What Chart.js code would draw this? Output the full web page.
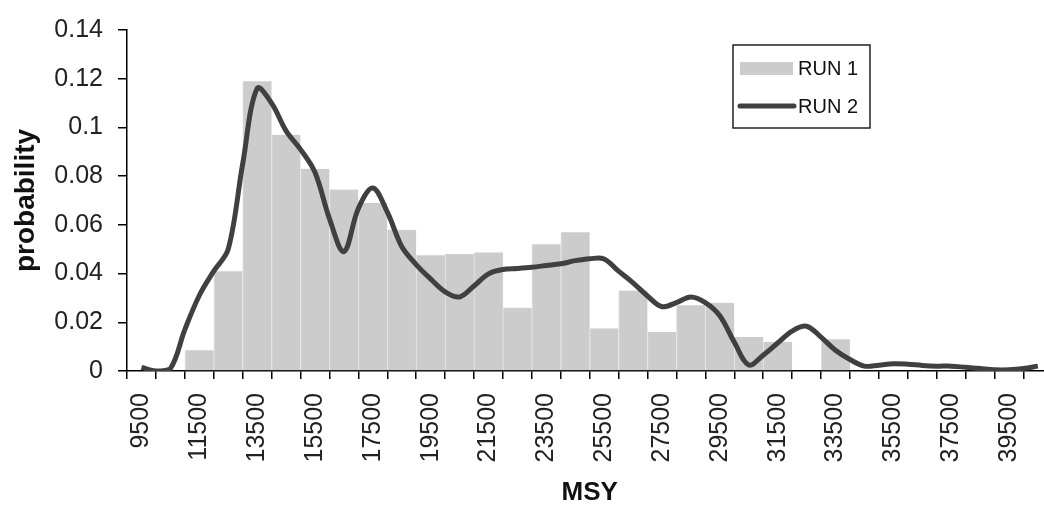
<!DOCTYPE html>
<html>
<head>
<meta charset="utf-8">
<script src="https://cdn.jsdelivr.net/npm/chart.js@4.4.1/dist/chart.umd.min.js"></script>
<style>
  html, body { margin: 0; padding: 0; background: #fff; overflow: hidden; }
  #wrap { position: absolute; left: 0; top: 0; width: 1082px; height: 509px; }
</style>
</head>
<body>
<div id="wrap"><canvas id="msy-chart"></canvas></div>
<script>
// histogram bins (MSY class centres)
const msyBins = ["9500", "10500", "11500", "12500", "13500", "14500", "15500", "16500",
  "17500", "18500", "19500", "20500", "21500", "22500", "23500", "24500",
  "25500", "26500", "27500", "28500", "29500", "30500", "31500", "32500",
  "33500", "34500", "35500", "36500", "37500", "38500", "39500", "40500"];

const run1 = [0, 0, 0.0085, 0.041, 0.119, 0.097, 0.083, 0.0745,
  0.069, 0.058, 0.0475, 0.048, 0.0487, 0.026, 0.052, 0.057,
  0.0175, 0.033, 0.016, 0.027, 0.028, 0.014, 0.012, 0,
  0.013, 0, 0, 0, 0, 0, 0, 0];

// RUN 2 density curve, read every 500
const run2Msy = [9500, 10000, 10500, 11000, 11500, 12000, 12500, 13000, 13500, 14000,
  14500, 15000, 15500, 16000, 16500, 17000, 17500, 18000, 18500, 19000,
  19500, 20000, 20500, 21000, 21500, 22000, 22500, 23000, 23500, 24000,
  24500, 25000, 25500, 26000, 26500, 27000, 27500, 28000, 28500, 29000,
  29500, 30000, 30500, 31000, 31500, 32000, 32500, 33000, 33500, 34000,
  34500, 35000, 35500, 36000, 36500, 37000, 37500, 38000, 38500, 39000,
  39500, 40000, 40500];

const run2 = [0.0015, 0.0, 0.001, 0.017, 0.031, 0.041, 0.050, 0.085, 0.116, 0.110,
  0.0986, 0.091, 0.0816, 0.0626, 0.049, 0.0667, 0.0751, 0.0653, 0.0511, 0.0437,
  0.0378, 0.0325, 0.0304, 0.0349, 0.0399, 0.0417, 0.0421, 0.0426, 0.0433, 0.044,
  0.0453, 0.0461, 0.046, 0.041, 0.0362, 0.0308, 0.0264, 0.0281, 0.0304, 0.0281,
  0.0227, 0.0119, 0.0025, 0.0065, 0.0115, 0.0164, 0.0184, 0.0139, 0.0085, 0.0047,
  0.002, 0.0024, 0.003, 0.0028, 0.0023, 0.002, 0.002, 0.0015, 0.001, 0.0005,
  0.0005, 0.001, 0.002];

const yTicks = [0, 0.02, 0.04, 0.06, 0.08, 0.1, 0.12, 0.14];

const FONT = "'Liberation Sans', Arial, sans-serif";

// legend box sitting inside the plot, like the original
const insideLegend = {
  id: "insideLegend",
  afterDraw(chart) {
    const ctx = chart.ctx;
    const [bars, line] = chart.data.datasets;
    ctx.save();
    ctx.fillStyle = "#fff";
    ctx.fillRect(733, 45, 137, 83);
    ctx.strokeStyle = "#222";
    ctx.lineWidth = 1.5;
    ctx.strokeRect(733, 45, 137, 83);

    ctx.fillStyle = bars.backgroundColor;
    ctx.fillRect(740, 62, 53, 13);

    ctx.strokeStyle = line.borderColor;
    ctx.lineWidth = 5;
    ctx.lineCap = "round";
    ctx.beginPath();
    ctx.moveTo(740, 106);
    ctx.lineTo(794, 106);
    ctx.stroke();

    ctx.fillStyle = "#111";
    ctx.font = `20px ${FONT}`;
    ctx.textBaseline = "middle";
    ctx.fillText(bars.label, 798, 69);
    ctx.fillText(line.label, 798, 107);
    ctx.restore();
  },
};

const ctx = document.getElementById("msy-chart").getContext("2d");

new Chart(ctx, {
  type: "bar",
  data: {
    labels: msyBins,
    datasets: [
      {
        type: "bar",
        label: "RUN 1",
        data: run1,
        backgroundColor: "#cccccc",
        borderColor: "#e6e6e6",
        borderWidth: { left: 1, right: 0, top: 0, bottom: 0 },
        borderSkipped: false,
        barPercentage: 1,
        categoryPercentage: 1,
        grouped: false,
        xAxisID: "x",
        order: 1,
      },
      {
        type: "line",
        label: "RUN 2",
        data: run2Msy.map((m, i) => ({ x: m, y: run2[i] })),
        borderColor: "#404040",
        borderWidth: 5,
        pointRadius: 0,
        tension: 0.35,
        fill: false,
        xAxisID: "x2",
        order: 0,
      },
    ],
  },
  options: {
    responsive: true,
    maintainAspectRatio: false,
    animation: false,
    layout: { padding: { left: 0, right: 8, top: 24, bottom: 0 } },
    plugins: {
      legend: { display: false },
      tooltip: { enabled: false },
    },
    scales: {
      x: {
        type: "category",
        offset: true,
        afterFit(scale) { scale.height = 138; },
        grid: {
          display: true,
          offset: true,
          drawOnChartArea: false,
          drawTicks: true,
          tickLength: 8,
          color: "#000",
          lineWidth: 1.5,
        },
        border: { display: true, color: "#000", width: 1.5 },
        ticks: {
          autoSkip: false,
          minRotation: 90,
          maxRotation: 90,
          padding: 14,
          color: "#222",
          font: { family: FONT, size: 25 },
          callback(v, i) { return i % 2 === 0 ? this.getLabelForValue(v) : ""; },
        },
        title: {
          display: true,
          text: "MSY",
          color: "#111",
          font: { family: FONT, size: 26, weight: "bold" },
          padding: { top: 0, bottom: 1 },
        },
      },
      x2: {
        type: "linear",
        display: false,
        offset: false,
        min: 9000,
        max: 41000,
      },
      y: {
        min: 0,
        max: 0.14,
        afterFit(scale) { scale.width = 127; },
        afterBuildTicks(scale) { scale.ticks = yTicks.map(v => ({ value: v })); },
        grid: {
          display: true,
          drawOnChartArea: false,
          drawTicks: true,
          tickLength: 9,
          color: "#000",
          lineWidth: 1.5,
        },
        border: { display: true, color: "#000", width: 1.5 },
        ticks: {
          padding: 15,
          color: "#222",
          font: { family: FONT, size: 25 },
          callback: v => String(+v.toFixed(2)),
        },
        title: {
          display: true,
          text: "probability",
          color: "#111",
          font: { family: FONT, size: 28, weight: "bold" },
          padding: { top: 9, bottom: 0 },
        },
      },
    },
  },
  plugins: [insideLegend],
});
</script>
</body>
</html>
